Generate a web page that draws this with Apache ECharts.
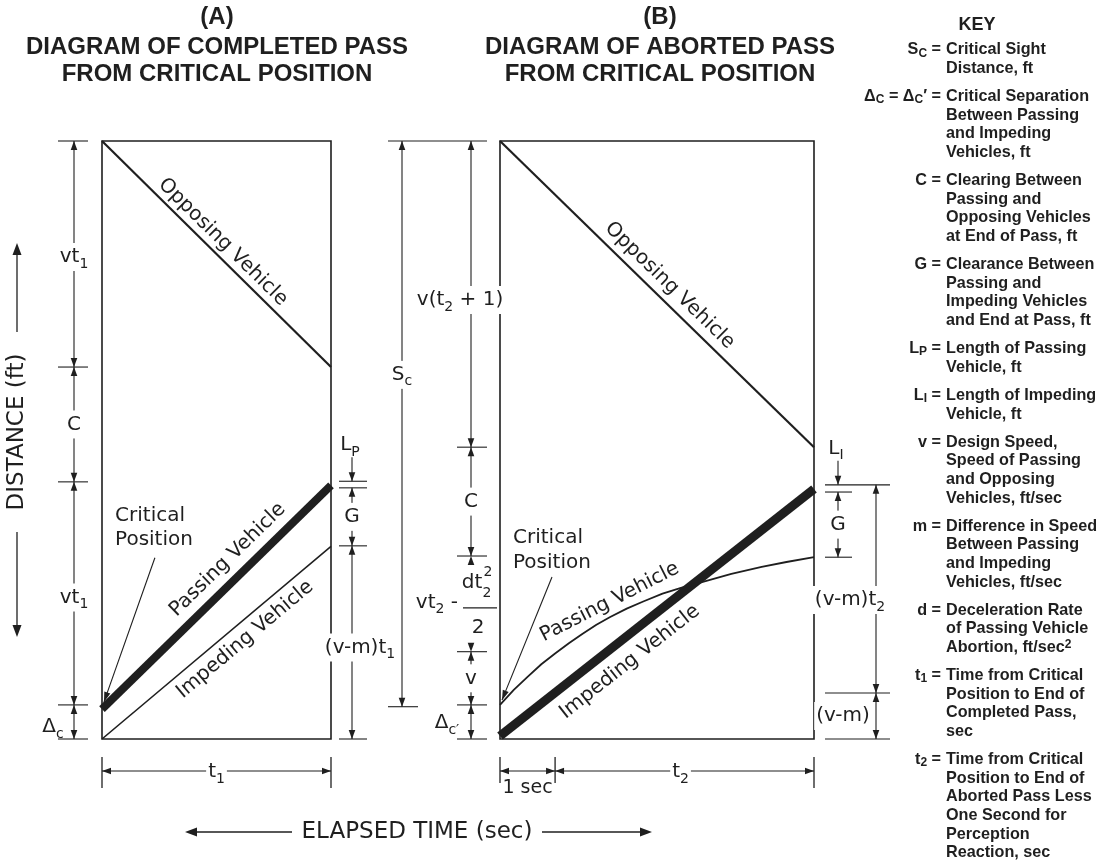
<!DOCTYPE html>
<html>
<head>
<meta charset="utf-8">
<title>Completed and aborted pass diagrams</title>
<script src="https://cdn.jsdelivr.net/npm/echarts@6.0.0/dist/echarts.min.js"></script>
<style>
html,body{margin:0;padding:0;background:#ffffff;}
#chart{width:1097px;height:865px;}
</style>
</head>
<body>
<div id="chart"></div>
<script>
// ===== Values (time in s, distance in diagram units, box height = 1000) =====
const distanceRange = [0, 1000];
const timeRangeA = [0, 10];      // 0 .. t1
const timeRangeB = [0, 5.7];     // 0 .. 1 s + t2

const opposingA = [[0, 1000], [10, 622]];
const passingA  = [[0, 50], [10, 424]];
const impedingA = [[0, 0], [10, 322]];

const opposingB = [[0, 1000], [5.7, 488]];
const impedingB = [[0, 5], [5.7, 418]];
const passingB  = [[0, 57], [0.25, 82], [0.5, 104], [0.75, 125], [1.0, 143], [1.25, 160], [1.5, 176], [1.75, 191], [2.0, 204],
                   [2.3, 218], [2.6, 230], [2.95, 243], [3.3, 253], [3.65, 262], [4.2, 276], [4.75, 288], [5.2, 296], [5.7, 304]];

// dimension ticks (distance values) and their labels
const dimLeftA = [1000, 622, 430, 57, 0];
const dimLeftALabels = ['vt{sub|1}', 'C', 'vt{sub|1}', 'Δ{sub|c}'];
const passLengthA = 431;
const passLengthALabel = 'L{sub|P}';
const dimRightA = [420, 323, 0];
const dimRightALabels = ['G', '(v-m)t{sub|1}'];
const timeTicksA = [0, 10];
const timeLabelsA = ['t{sub|1}'];

const sightDistB = [1000, 54];
const sightDistBLabels = ['S{sub|c}'];
const dimLeftB = [1000, 488, 306, 146, 57, 0];
const dimLeftBLabels = ['v(t{sub|2} + 1)', 'C', 'vt2 - dt2²/2', 'v', 'Δ{sub|c′}'];
const fractionParts = {lead: 'vt{sub|2} -', num: 'dt', sup: '2', sub: '2', den: '2'};
const impLengthB = 425;
const impLengthBLabel = 'L{sub|I}';
const dimGapB = [413, 304];
const dimGapBLabels = ['G'];
const dimRightB = [425, 77, 0];
const dimRightBLabels = ['(v-m)t{sub|2}', '(v-m)'];
const timeTicksB = [0, 1, 5.7];
const timeLabelsB = ['1 sec', 't{sub|2}'];

const vehicleNames = ['Opposing Vehicle', 'Passing Vehicle', 'Impeding Vehicle'];
const criticalText = 'Critical\nPosition';
const titleA = ['(A)', 'DIAGRAM OF COMPLETED PASS', 'FROM CRITICAL POSITION'];
const titleB = ['(B)', 'DIAGRAM OF ABORTED PASS', 'FROM CRITICAL POSITION'];
const axisDistance = 'DISTANCE (ft)';
const axisTime = 'ELAPSED TIME (sec)';

const keyTitle = 'KEY';
const keySymbols = ['S{ks|C}', 'Δ{ks|C} = Δ{ks|C}′', 'C', 'G', 'L{ks|P}', 'L{ks|I}', 'v', 'm', 'd', 't{ks|1}', 't{ks|2}'];
const keyTexts = [
  ['Critical Sight', 'Distance, ft'],
  ['Critical Separation', 'Between Passing', 'and Impeding', 'Vehicles, ft'],
  ['Clearing Between', 'Passing and', 'Opposing Vehicles', 'at End of Pass, ft'],
  ['Clearance Between', 'Passing and', 'Impeding Vehicles', 'and End at Pass, ft'],
  ['Length of Passing', 'Vehicle, ft'],
  ['Length of Impeding', 'Vehicle, ft'],
  ['Design Speed,', 'Speed of Passing', 'and Opposing', 'Vehicles, ft/sec'],
  ['Difference in Speed', 'Between Passing', 'and Impeding', 'Vehicles, ft/sec'],
  ['Deceleration Rate', 'of Passing Vehicle', 'Abortion, ft/sec{ksup|2}'],
  ['Time from Critical', 'Position to End of', 'Completed Pass,', 'sec'],
  ['Time from Critical', 'Position to End of', 'Aborted Pass Less', 'One Second for', 'Perception', 'Reaction, sec']
];

// ===== Styling / layout =====
const INK = '#1f1f1f';
const FONT = 'DejaVu Sans';
const BOLD = 'Liberation Sans';
const KEY_SIZE = 16.2;
const RICH = {
  sub: {fontFamily: FONT, fontSize: 14, lineHeight: 14, verticalAlign: 'bottom', fill: INK},
  sup: {fontFamily: FONT, fontSize: 14, lineHeight: 14, verticalAlign: 'top', fill: INK}
};
const KRICH = {
  ks: {fontFamily: BOLD, fontWeight: 'bold', fontSize: 12, lineHeight: 11, verticalAlign: 'bottom', fill: INK},
  ksup: {fontFamily: BOLD, fontWeight: 'bold', fontSize: 12, lineHeight: 11, verticalAlign: 'top', fill: INK}
};

function seg(x1, y1, x2, y2, w) {
  return {type: 'line', shape: {x1: x1, y1: y1, x2: x2, y2: y2}, style: {stroke: INK, lineWidth: w || 1.2}, silent: true};
}
function head(tx, ty, ux, uy, len, half) {
  len = len || 9; half = half || 3.3;
  const bx = tx - ux * len, by = ty - uy * len;
  return {type: 'polygon', shape: {points: [[tx, ty], [bx - uy * half, by + ux * half], [bx + uy * half, by - ux * half]]}, style: {fill: INK}, silent: true};
}
function label(x, y, text, o) {
  o = o || {};
  const al = o.align || 'center', va = o.va || 'middle';
  const style = {
    text: text, fill: INK, fontFamily: o.family || FONT, fontSize: o.size || 20,
    fontWeight: o.weight || 'normal', lineHeight: o.lh || 28,
    align: al, verticalAlign: va, textAlign: al, textVerticalAlign: va,
    rich: o.rich || RICH
  };
  if (o.bg) { style.backgroundColor = '#ffffff'; style.padding = [0, 2]; }
  return {type: 'text', x: x, y: y, rotation: o.rotation || 0, style: style, silent: true};
}
function fraction(x, ym) {
  return [
    label(x - 13, ym - 1, fractionParts.lead, {align: 'right'}),
    label(x + 1, ym - 21, fractionParts.num),
    label(x + 17, ym - 31, fractionParts.sup, {size: 14, lh: 14}),
    label(x + 16, ym - 10, fractionParts.sub, {size: 14, lh: 14}),
    seg(x - 8, ym + 4, x + 26, ym + 4, 1.1),
    label(x + 7, ym + 24, fractionParts.den)
  ];
}
// vertical dimension chain
function vChain(api, o) {
  const x = api.coord([o.xData, 0])[0] + o.dx;
  const ys = o.ticks.map(function (v) { return api.coord([o.xData, v])[1]; });
  const out = [];
  ys.forEach(function (y, i) {
    const e = (o.ext && o.ext[i]) || o.extAll || [15, 15];
    if (e[0] + e[1] > 0) out.push(seg(x - e[0], y, x + e[1], y, 1.1));
  });
  for (let i = 0; i < ys.length - 1; i++) {
    const ya = ys[i], yb = ys[i + 1];
    const lb = o.labels ? o.labels[i] : null;
    const lo = (o.labelOpts && o.labelOpts[i]) || {};
    if (!lo.fraction) out.push(seg(x, ya, x, yb, 1.1));
    out.push(head(x, ya, 0, -1));
    out.push(head(x, yb, 0, 1));
    const ym = (ya + yb) / 2;
    if (lo.fraction) out.push.apply(out, fraction(x, ym));
    else if (lb) out.push(label(x + (lo.dx || 0), ym + (lo.dy || 0), lb, {bg: lo.bg}));
  }
  return out;
}
// single arrow from outside pointing at a value, with label above
function outsideArrow(api, o) {
  const x = api.coord([o.xData, 0])[0] + o.dx;
  const y = api.coord([o.xData, o.value])[1];
  const out = [seg(x, y - 24, x, y, 1.1), head(x, y, 0, 1), label(x + (o.ldx || 0), y - 36, o.text)];
  if (o.ext) out.push(seg(x - o.ext[0], y, x + o.ext[1], y, 1.1));
  return out;
}
// horizontal time dimension chain below the box
function hChain(api, o) {
  const y = api.coord([0, 0])[1] + o.dy;
  const xs = o.ticks.map(function (t) { return api.coord([t, 0])[0]; });
  const out = [];
  xs.forEach(function (x, i) {
    const e = (o.ext && o.ext[i]) || [14, 17];
    out.push(seg(x, y - e[0], x, y + e[1], 1.3));
  });
  for (let i = 0; i < xs.length - 1; i++) {
    const xa = xs[i], xb = xs[i + 1];
    const lo = (o.labelOpts && o.labelOpts[i]) || {};
    out.push(seg(xa, y, xb, y, 1.1));
    out.push(head(xa, y, -1, 0));
    out.push(head(xb, y, 1, 0));
    out.push(label((xa + xb) / 2 + (lo.dx || 0), y + (lo.dy || 0), o.labels[i], {bg: lo.bg, size: lo.size}));
  }
  return out;
}
function pointer(api, from, to) {
  const a = api.coord(from), b = api.coord(to);
  const dx = b[0] - a[0], dy = b[1] - a[1], L = Math.hypot(dx, dy);
  return [seg(a[0], a[1], b[0], b[1], 1.1), head(b[0], b[1], dx / L, dy / L, 10, 3.2)];
}
function alongLabel(api, pts, s, off, text) {
  const p0 = api.coord(pts[0]), p1 = api.coord(pts[pts.length - 1]);
  const dx = p1[0] - p0[0], dy = p1[1] - p0[1];
  const r = Math.atan2(-dy, dx);
  const ux = -Math.sin(r), uy = -Math.cos(r);
  return label(p0[0] + dx * s + ux * off, p0[1] + dy * s + uy * off, text, {rotation: r});
}
function anchoredText(api, at, text, o) {
  const p = api.coord(at);
  return label(p[0], p[1], text, o);
}

const annotationsA = [
  function (api) { return vChain(api, {xData: timeRangeA[0], dx: -28, ticks: dimLeftA, extAll: [16, 14], labels: dimLeftALabels,
    labelOpts: [{bg: true, dy: 3}, {bg: true}, {bg: true, dy: 4}, {dx: -21, dy: 5}]}); },
  function (api) { return outsideArrow(api, {xData: timeRangeA[1], dx: 21, value: passLengthA, text: passLengthALabel, ldx: -2, ext: [13, 15]}); },
  function (api) { return vChain(api, {xData: timeRangeA[1], dx: 21, ticks: dimRightA, extAll: [13, 15], labels: dimRightALabels,
    labelOpts: [{bg: true}, {bg: true, dx: 8, dy: 5}]}); },
  function (api) { return hChain(api, {dy: 32, ticks: timeTicksA, ext: [[14, 17], [14, 17]], labels: timeLabelsA, labelOpts: [{bg: true, dy: 1}]}); },
  function (api) { return pointer(api, [2.31, 303], [0.087, 62]); },
  function (api) { return [anchoredText(api, [0.57, 353], criticalText, {align: 'left', lh: 24})]; },
  function (api) { return [alongLabel(api, opposingA, 0.488, 13, vehicleNames[0])]; },
  function (api) { return [alongLabel(api, passingA, 0.607, 19, vehicleNames[1])]; },
  function (api) { return [alongLabel(api, impedingA, 0.58, -16, vehicleNames[2])]; }
];

const annotationsB = [
  function (api) { return vChain(api, {xData: timeRangeB[0], dx: -98, ticks: sightDistB, ext: [[0, 0], [14, 16]], labels: sightDistBLabels,
    labelOpts: [{bg: true, dy: -49}]}); },
  function (api) { return vChain(api, {xData: timeRangeB[0], dx: -29, ticks: dimLeftB, ext: [[83, 16], [14, 16], [14, 16], [14, 16], [14, 16], [14, 16]],
    labels: dimLeftBLabels, labelOpts: [{bg: true, dx: -11, dy: 6}, {bg: true}, {fraction: true}, {bg: true}, {dx: -24, dy: 1}]}); },
  function (api) { return outsideArrow(api, {xData: timeRangeB[1], dx: 24, value: impLengthB, text: impLengthBLabel, ldx: -2}); },
  function (api) { return vChain(api, {xData: timeRangeB[1], dx: 24, ticks: dimGapB, extAll: [13, 14], labels: dimGapBLabels, labelOpts: [{bg: true}]}); },
  function (api) { return vChain(api, {xData: timeRangeB[1], dx: 62, ticks: dimRightB, extAll: [51, 14], labels: dimRightBLabels,
    labelOpts: [{bg: true, dx: -26, dy: 11}, {bg: true, dx: -33}]}); },
  function (api) { return hChain(api, {dy: 32, ticks: timeTicksB, ext: [[14, 12], [14, 12], [14, 17]], labels: timeLabelsB,
    labelOpts: [{dy: 17, size: 19}, {bg: true, dy: 1, dx: -4}]}); },
  function (api) { return pointer(api, [0.944, 271], [0.036, 65]); },
  function (api) { return [anchoredText(api, [0.236, 315], criticalText, {align: 'left', lh: 25})]; },
  function (api) { return [alongLabel(api, opposingB, 0.507, 15, vehicleNames[0])]; },
  function (api) { return [anchoredText(api, [1.99, 229], vehicleNames[1], {rotation: 27 * Math.PI / 180})]; },
  function (api) { return [alongLabel(api, impedingB, 0.37, -22, vehicleNames[2])]; }
];

function annotationSeries(idx, specs) {
  return {
    type: 'custom', xAxisIndex: idx, yAxisIndex: idx, coordinateSystem: 'cartesian2d',
    clip: false, silent: true, z: 10, animation: false,
    data: specs.map(function () { return [0, 0]; }),
    renderItem: function (params, api) { return {type: 'group', children: specs[params.dataIndex](api)}; }
  };
}
function vehicle(idx, data, width, extra) {
  return Object.assign({
    type: 'line', xAxisIndex: idx, yAxisIndex: idx, data: data, symbol: 'none', silent: true, animation: false,
    lineStyle: {color: INK, width: width, cap: 'butt', join: 'round'}, z: 3
  }, extra || {});
}

// ===== fixed page text: titles, axis captions, key =====
const graphics = [];
[[titleA, 217], [titleB, 660]].forEach(function (t) {
  [17, 47, 74].forEach(function (y, i) {
    graphics.push(label(t[1], y, t[0][i], {family: BOLD, weight: 'bold', size: 24, lh: 28}));
  });
});
// vertical distance caption with arrows
graphics.push(label(17, 432, axisDistance, {size: 23, rotation: Math.PI / 2}));
graphics.push(seg(17, 332, 17, 252, 1.3), head(17, 243, 0, -1, 12, 4.5));
graphics.push(seg(17, 532, 17, 628, 1.3), head(17, 637, 0, 1, 12, 4.5));
// horizontal time caption with arrows
graphics.push(label(417, 832, axisTime, {size: 23}));
graphics.push(seg(292, 832, 194, 832, 1.3), head(185, 832, -1, 0, 12, 4.5));
graphics.push(seg(542, 832, 643, 832, 1.3), head(652, 832, 1, 0, 12, 4.5));
// key
graphics.push(label(977, 25, keyTitle, {family: BOLD, weight: 'bold', size: 18, lh: 20}));
(function () {
  const LH = 18.6, GAP = 9.6;
  let y = 50;
  keySymbols.forEach(function (sym, i) {
    graphics.push(label(941, y, sym + ' =', {family: BOLD, weight: 'bold', size: KEY_SIZE, lh: 18.6, align: 'right', rich: KRICH}));
    keyTexts[i].forEach(function (ln, j) {
      graphics.push(label(946, y + j * LH, ln, {family: BOLD, weight: 'bold', size: KEY_SIZE, lh: 18.6, align: 'left', rich: KRICH}));
    });
    y += keyTexts[i].length * LH + GAP;
  });
})();

const chart = echarts.init(document.getElementById('chart'), null, {renderer: 'canvas'});
chart.setOption({
  backgroundColor: '#ffffff',
  animation: false,
  grid: [
    {left: 102, top: 141, width: 229, height: 598, show: true, borderColor: INK, borderWidth: 1.6, backgroundColor: 'transparent'},
    {left: 500, top: 141, width: 314, height: 598, show: true, borderColor: INK, borderWidth: 1.6, backgroundColor: 'transparent'}
  ],
  xAxis: [
    {gridIndex: 0, type: 'value', min: timeRangeA[0], max: timeRangeA[1], show: false},
    {gridIndex: 1, type: 'value', min: timeRangeB[0], max: timeRangeB[1], show: false}
  ],
  yAxis: [
    {gridIndex: 0, type: 'value', min: distanceRange[0], max: distanceRange[1], show: false},
    {gridIndex: 1, type: 'value', min: distanceRange[0], max: distanceRange[1], show: false}
  ],
  series: [
    vehicle(0, opposingA, 2.2),
    vehicle(0, passingA, 8),
    vehicle(0, impedingA, 1.6),
    vehicle(1, opposingB, 2.2),
    vehicle(1, impedingB, 9),
    vehicle(1, passingB, 1.8),
    annotationSeries(0, annotationsA),
    annotationSeries(1, annotationsB)
  ],
  graphic: {elements: graphics}
});
</script>
</body>
</html>
